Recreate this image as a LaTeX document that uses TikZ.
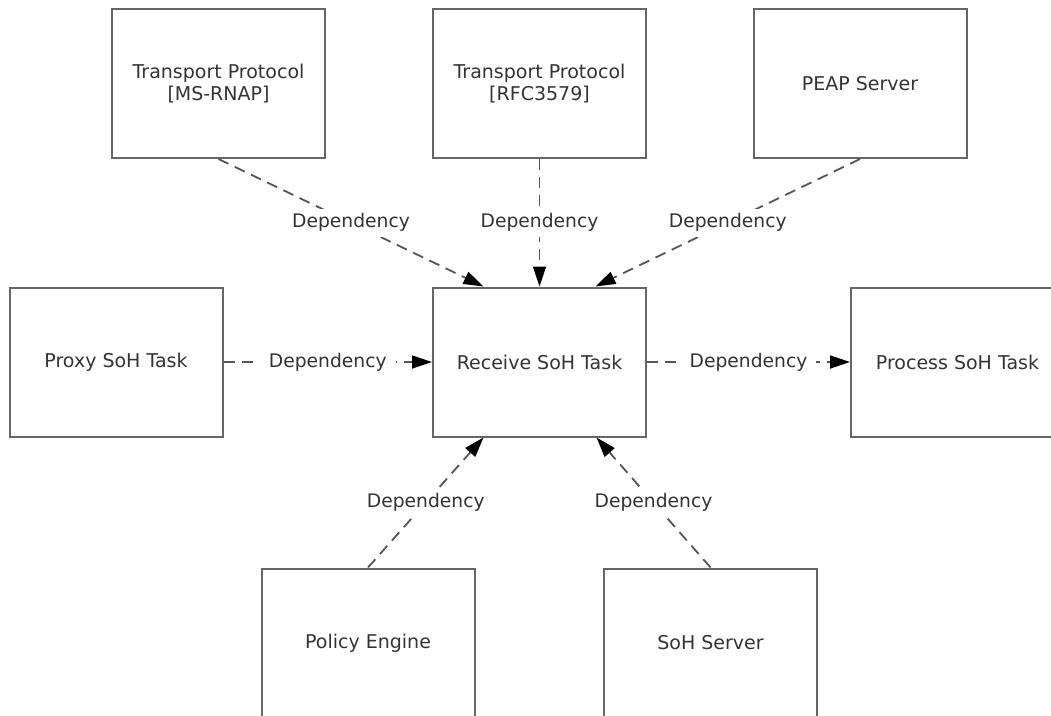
\documentclass[tikz,border=0pt]{standalone}
\usepackage{fontspec}
\setmainfont{DejaVu Sans}
\usetikzlibrary{arrows.meta}
\definecolor{boxgray}{HTML}{666666}
\definecolor{linegray}{HTML}{555555}
\definecolor{txtgray}{HTML}{333333}
\begin{document}
\begin{tikzpicture}[x=1pt,y=-1pt,
  box/.style={draw=boxgray, line width=2pt, minimum width=213pt, minimum height=149pt,
    inner sep=0pt, align=center, text=txtgray, font=\fontsize{19}{22}\selectfont},
  dep/.style={draw=linegray, line width=1.8pt, dash pattern=on 11pt off 7pt,
    -{Triangle[length=20pt,width=13pt,black]}},
  lbl/.style={fill=white, text=txtgray, inner xsep=9pt, inner ysep=5pt,
    font=\fontsize{18.7}{22}\selectfont}]
\useasboundingbox (0,0) rectangle (1051,715);
\clip (0,0) rectangle (1051,715);

% components
\node[box] (tp1)  at (218.5,83.5) {Transport Protocol\\{}[MS-RNAP]};
\node[box] (tp2)  at (539.5,83.5) {Transport Protocol\\{}[RFC3579]};
\node[box] (peap) at (860,83.5)   {PEAP Server};
\node[box] (proxy) at (116,362)   {Proxy SoH Task};
\node[box] (rec)   at (539.5,362) {Receive SoH Task};
\node[box] (proc)  at (957.5,362) {Process SoH Task};
\node[box] (pol)   at (368,643)   {Policy Engine};
\node[box] (soh)   at (710.5,643) {SoH Server};

% dependencies
\draw[dep] (tp1.south)  -- node[lbl] {Dependency} ([xshift=-56pt]rec.north);
\draw[dep] (tp2.south)  -- node[lbl] {Dependency} (rec.north);
\draw[dep] (peap.south) -- node[lbl] {Dependency} ([xshift=56pt]rec.north);
\draw[dep] (proxy.east) -- node[lbl] {Dependency} (rec.west);
\draw[dep] (rec.east)   -- node[lbl] {Dependency} (proc.west);
\draw[dep] (pol.north)  -- node[lbl] {Dependency} ([xshift=-56pt]rec.south);
\draw[dep] (soh.north)  -- node[lbl] {Dependency} ([xshift=57pt]rec.south);
\end{tikzpicture}
\end{document}
